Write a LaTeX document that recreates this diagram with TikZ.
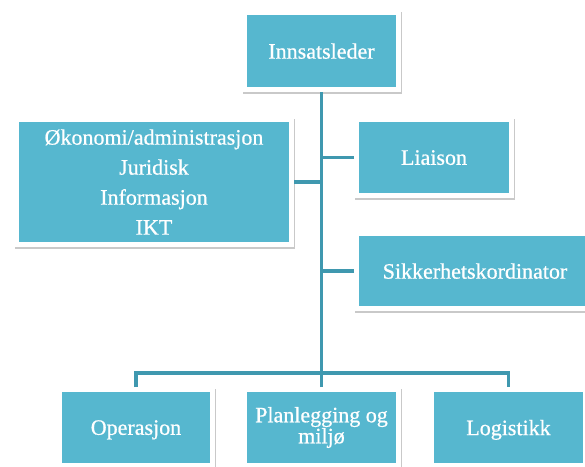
\documentclass[tikz,border=0pt]{standalone}
\usepackage{fontspec}
\setmainfont{Liberation Serif}
\newfontfamily\boxfont{Liberation Serif}[FakeBold=0.7]
\usetikzlibrary{shadows}
\definecolor{boxblue}{RGB}{86,183,207}
\definecolor{linkblue}{RGB}{63,152,175}
\tikzset{
  orgbox/.style={
    rectangle, fill=white, draw=none, outer sep=0pt, inner sep=0pt,
    drop shadow={opacity=0.3, fill=black!70, shadow xshift=1pt, shadow yshift=-2pt},
    path picture={\fill[boxblue] ([shift={(5pt,5pt)}]path picture bounding box.south west) rectangle ([shift={(-5pt,-5pt)}]path picture bounding box.north east);},
    text=white, align=center, font=\boxfont\fontsize{22}{30}\selectfont
  },
  oneline/.style={text depth=0pt},
  link/.style={draw=linkblue, line width=3.5pt}
}
\begin{document}
\begin{tikzpicture}[x=1pt,y=-1pt]
\useasboundingbox (0,0) rectangle (585,466);
\node[orgbox, oneline, minimum width=159pt, minimum height=82pt] (inns) at (321.5,51) {Innsatsleder};
\node[orgbox, minimum width=280pt, minimum height=130pt] (stab) at (154,182) {Økonomi/administrasjon\\Juridisk\\Informasjon\\IKT};
\node[orgbox, oneline, minimum width=160pt, minimum height=81pt] (liai) at (434,157.5) {Liaison};
\node[orgbox, oneline, minimum width=242pt, minimum height=80pt] (sikk) at (475,271) {Sikkerhetskordinator};
\node[orgbox, oneline, minimum width=158pt, minimum height=81pt] (oper) at (136,427.5) {Operasjon};
\node[orgbox, minimum width=159pt, minimum height=81pt, font=\boxfont\fontsize{22}{18}\selectfont] (plan) at (321.5,427.5) {Planlegging og\\miljø};
\node[orgbox, oneline, minimum width=159pt, minimum height=81pt] (logi) at (508.5,427.5) {Logistikk};
\coordinate (j) at (321.5,373);
\draw[link] (inns.south) -- (j);
\draw[link] (stab.east) -- (stab.east -| j);
\draw[link] (liai.west) -- (liai.west -| j);
\draw[link] (sikk.west) -- (sikk.west -| j);
\draw[link] (oper.north) |- (j) -| (logi.north);
\draw[link] (plan.north) -- (j);
\end{tikzpicture}
\end{document}
